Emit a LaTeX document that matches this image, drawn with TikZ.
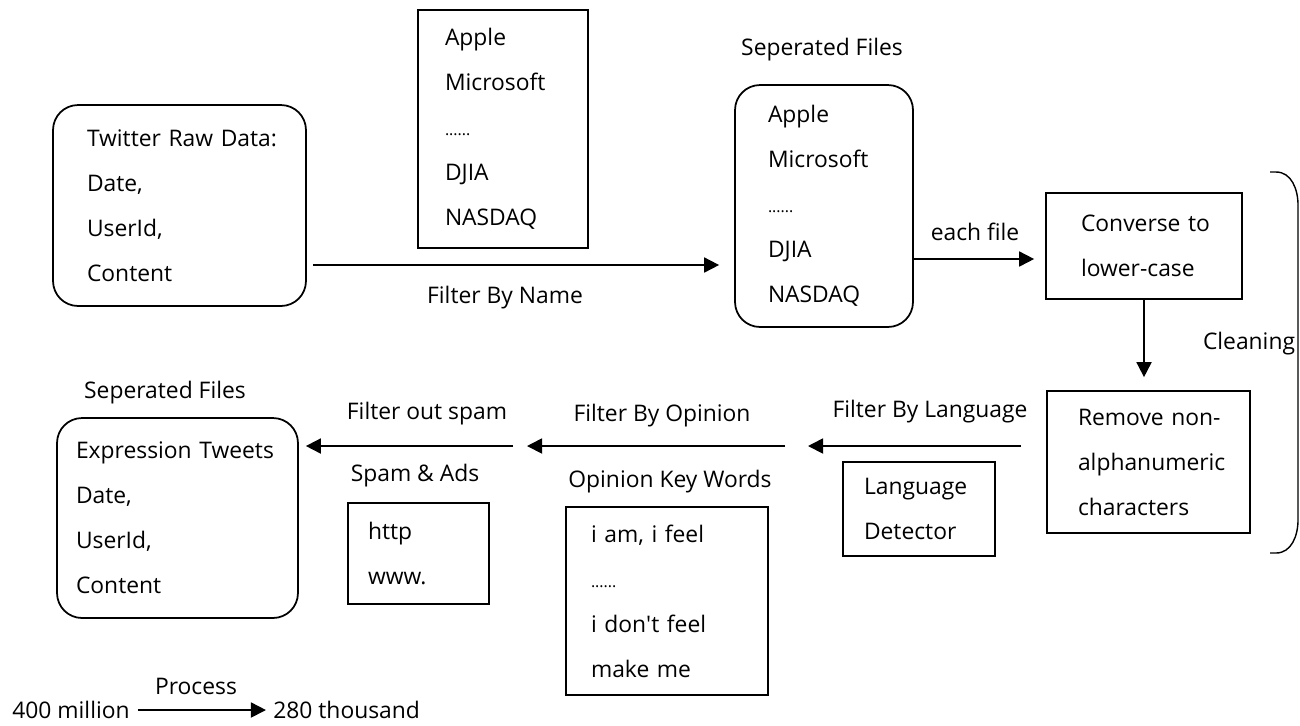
\documentclass[tikz,border=0pt]{standalone}
\usepackage{fontspec}
\setmainfont{Open Sans}
\usetikzlibrary{arrows.meta, positioning}

\begin{document}
\begin{tikzpicture}[
                        x=0.02cm, y=-0.02cm,
                        font=\fontsize{13}{25.6}\selectfont,
                        >={Triangle[length=0.3cm, width=0.3cm]},
                        box/.style={
                                rectangle, draw, line width=1pt,
                                align=left, inner ysep=0pt
                            },
                        roundbox/.style={box, rounded corners=0.5cm},
                        tag/.style={inner sep=0pt},
                        arrow/.style={->, line width=1pt}
                    ]
                    \useasboundingbox (0,0) rectangle (1300,725);

                    % ===== Top Row =====
                    \node[roundbox, minimum height=4.02cm, text width=3.7cm, inner xsep=0.68cm] (raw) at (179.5,205.5) {
                    \mbox{Twitter Raw Data:}\\Date,\\UserId,\\Content};

                    \node[box, minimum height=4.76cm, text width=2.32cm, inner xsep=0.54cm] (names) at (503,129) {
                    Apple\\Microsoft\\{\small ......}\\DJIA\\NASDAQ};

                    \node[roundbox, minimum height=4.84cm, text width=2.24cm, inner xsep=0.66cm] (sepfiles) at (824,206) {
                    Apple\\Microsoft\\{\small ......}\\DJIA\\NASDAQ};
                    \node[tag] (septitle) at (822,50) {Seperated Files};

                    \node[box, minimum height=2.12cm, text width=2.52cm, inner xsep=0.7cm] (lower) at (1144,246) {
                    \mbox{Converse to}\\lower-case};

                    % ===== Cleaning =====
                    \node[box, minimum height=2.84cm, text width=2.82cm, inner xsep=0.62cm] (alnum) at (1148.5,462) {
                    \mbox{Remove non-}\\alphanumeric\\characters};

                    \coordinate (bracetop) at (1270,172);
                    \coordinate (bracebot) at (1270,553);
                    \draw[line width=0.8pt] (bracetop) -- ++(6,0) to[out=0, in=90] (1298,205)
                    -- (1298,520) to[out=-90, in=0] (1276,553) -- (bracebot);
                    \node[tag] (cleaning) at (1249,344) {Cleaning};

                    % ===== Filters (Bottom Row) =====
                    \node[box, minimum height=1.88cm, text width=2.2cm, inner xsep=0.42cm] (langdet) at (919,509) {
                    Language\\Detector};

                    \node[box, minimum height=3.76cm, text width=3.04cm, inner xsep=0.5cm] (opinion) at (667,601) {
                    \mbox{i am, i feel}\\{\small ......}\\\mbox{i don\textquotesingle t feel}\\make me};
                    \node[tag] (opiniontitle) at (670,482) {Opinion Key Words};

                    \node[box, minimum height=2.02cm, text width=2.02cm, inner xsep=0.4cm] (spam) at (418.5,553.5) {
                    http\\www.};
                    \node[tag] (spamtitle) at (415,476) {Spam \& Ads};

                    \node[roundbox, minimum height=4cm, text width=4.06cm, inner xsep=0.38cm] (tweets) at (177.5,518) {
                    \mbox{Expression Tweets}\\Date,\\UserId,\\Content};
                    \node[tag] (tweetstitle) at (165,393) {Seperated Files};

                    % ===== Arrows =====
                    \coordinate (namerow) at (0,265);
                    \coordinate (filerow) at (0,259);
                    \coordinate (filterrow) at (0,446);
                    \coordinate (langend) at (808,446);
                    \coordinate (opstart) at (785,446);
                    \coordinate (opend) at (527,446);
                    \coordinate (spamstart) at (513,446);

                    \draw[arrow, shorten <=0.12cm, shorten >=0.3cm] (raw.east |- namerow) -- (sepfiles.west |- namerow);
                    \node[tag] (byname) at (505,298) {Filter By Name};

                    \draw[arrow, shorten >=0.22cm] (sepfiles.east |- filerow) -- (lower.west |- filerow);
                    \node[tag] (eachfile) at (975,232) {each file};

                    \draw[arrow, shorten >=0.26cm] (lower.south) -- (lower.south |- alnum.north);

                    \draw[arrow, shorten <=0.5cm] (alnum.west |- filterrow) -- (langend);
                    \node[tag] (bylang) at (930,412) {Filter By Language};

                    \draw[arrow] (opstart) -- (opend);
                    \node[tag] (byopinion) at (662,416) {Filter By Opinion};

                    \draw[arrow, shorten >=0.14cm] (spamstart) -- (tweets.east |- filterrow);
                    \node[tag] (outspam) at (427,414) {Filter out spam};

                    % ===== Totals =====
                    \node[tag] (million) at (71,710) {400 million};
                    \node[tag, right=2.86cm of million] (thousand) {280 thousand};
                    \draw[arrow, shorten <=0.16cm, shorten >=0.14cm] (million.east) -- (thousand.west);
                    \node[tag] (process) at (196,686) {Process};

                \end{tikzpicture}
\end{document}
